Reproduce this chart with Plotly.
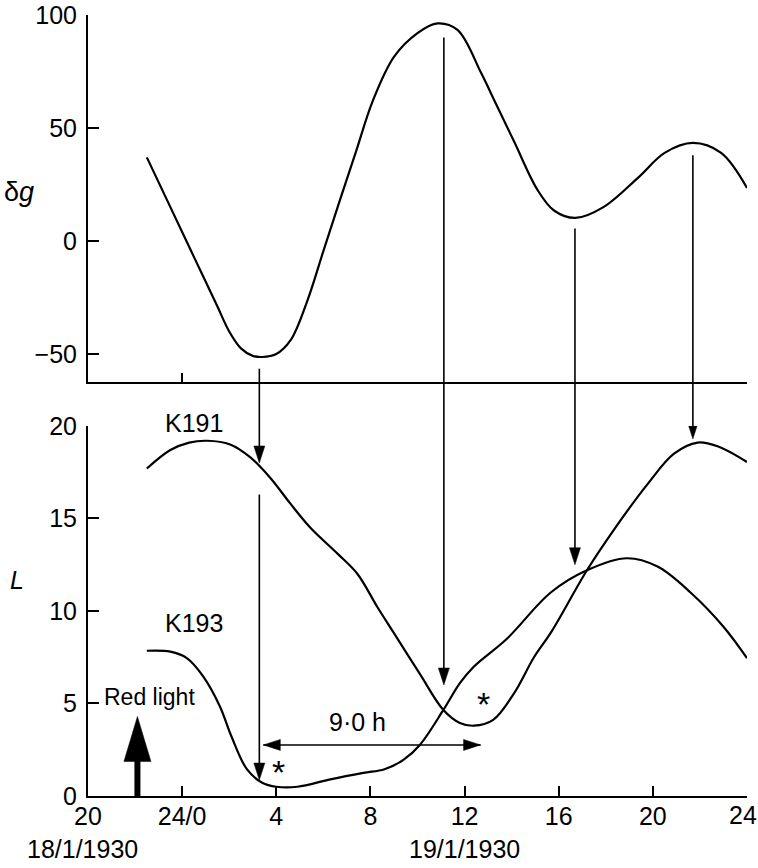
import plotly.graph_objects as go

# ---------------- data ----------------
dg_hours = [22.5, 23.5, 24.5, 25.5, 26.0, 26.5, 27.0, 27.4, 28.0, 28.6, 29.3, 30.0, 30.7, 31.4,
            32.1, 33.0, 34.0, 34.85, 35.7, 36.7, 37.25, 38.1, 39.1, 39.8, 40.7, 41.9, 43.4,
            44.5, 45.7, 46.9, 48.0]
dg_values = [37, 15, -7, -29, -40, -47.5, -50.8, -51.3, -50, -44, -27, -4.5, 18, 40,
             62, 81.5, 92, 96.3, 93.4, 74.4, 62.5, 44.1, 22.6, 13.5, 10.2, 15, 28.3,
             39, 43.4, 39, 23.5]

k191_hours = [22.5, 23.5, 24.3, 25.06, 26.04, 26.9, 27.74, 28.6, 29.45, 30.6, 31.45, 32.3, 33.0,
              34.1, 35.1, 35.8, 36.4, 37.2, 38.1, 38.95, 39.7, 41.2, 42.35, 43.8, 44.9, 45.9,
              46.75, 48.0]
k191_values = [17.7, 18.7, 19.1, 19.2, 19.0, 18.3, 17.2, 15.8, 14.5, 13.1, 12.0, 10.2, 8.8,
               6.6, 4.65, 3.95, 3.8, 4.1, 5.55, 7.5, 8.9, 12.2, 14.4, 16.9, 18.5, 19.1,
               18.9, 18.05]

k193_hours = [22.5, 23.5, 24.2, 24.9, 25.6, 26.1, 26.75, 27.4, 28.0, 28.9, 30.3, 31.7, 32.6,
              33.4, 34.1, 35.1, 35.8, 36.4, 37.8, 39.66, 41.2, 42.9, 44.2, 45.6, 47.0, 48.0]
k193_values = [7.85, 7.8, 7.45, 6.45, 4.85, 3.2, 1.45, 0.72, 0.5, 0.5, 0.9, 1.25, 1.45,
               1.95, 2.76, 4.65, 6.1, 7.0, 8.5, 11.0, 12.2, 12.85, 12.4, 11.0, 9.15, 7.45]

x_tickvals = [20, 24, 28, 32, 36, 40, 44, 48]
x_ticktext = ["20", "24/0", "4", "8", "12", "16", "20", "24"]
dg_tickvals = [-50, 0, 50, 100]
dg_ticktext = ["\u221250", "0", "50", "100"]
L_tickvals = [0, 5, 10, 15, 20]

# correspondence arrows: hour, start (panel, value), end L value
arrow_hours = [27.28, 27.28, 35.12, 40.69, 45.7]
arrow_start_panel = ["dg", "L", "dg", "dg", "dg"]
arrow_start_value = [-56.5, 16.3, 90.0, 5.5, 38.0]
arrow_end_L = [18.0, 0.86, 6.0, 12.5, 19.3]

# 9.0 h interval arrow
interval_hours = [27.45, 36.68]
interval_L = 2.76

# red light stimulus
redlight_hour = 22.1
redlight_tip_L = 4.3

# ---------------- layout helpers ----------------
TOP_DOM = [0.530, 1.0]
BOT_DOM = [0.0, 0.4738]
DG_RANGE = [-62.4, 100]
L_RANGE = [0, 20]
FONT = "Liberation Sans, Arial, Helvetica, sans-serif"
FS = 25


def dg_paper(v):
    return TOP_DOM[0] + (v - DG_RANGE[0]) / (DG_RANGE[1] - DG_RANGE[0]) * (TOP_DOM[1] - TOP_DOM[0])


def l_paper(v):
    return BOT_DOM[0] + (v - L_RANGE[0]) / (L_RANGE[1] - L_RANGE[0]) * (BOT_DOM[1] - BOT_DOM[0])


fig = go.Figure()
line_style = dict(color="black", width=2.2)
fig.add_trace(go.Scatter(x=dg_hours, y=dg_values, mode="lines", line=dict(shape="spline", **line_style),
                         xaxis="x", yaxis="y", showlegend=False, hoverinfo="skip"))
fig.add_trace(go.Scatter(x=k191_hours, y=k191_values, mode="lines", line=dict(shape="spline", **line_style),
                         xaxis="x2", yaxis="y2", showlegend=False, hoverinfo="skip"))
fig.add_trace(go.Scatter(x=k193_hours, y=k193_values, mode="lines", line=dict(shape="spline", **line_style),
                         xaxis="x2", yaxis="y2", showlegend=False, hoverinfo="skip"))

shapes = []
HEAD_DOWN = "M0,0 L-5.5,17 L5.5,17 Z"
for h, panel, sv, ev in zip(arrow_hours, arrow_start_panel, arrow_start_value, arrow_end_L):
    y0 = dg_paper(sv) if panel == "dg" else l_paper(sv)
    shapes.append(dict(type="line", xref="x2", yref="paper", x0=h, x1=h, y0=y0, y1=l_paper(ev) + 0.01,
                       line=dict(color="black", width=1.6)))
    shapes.append(dict(type="path", xref="x2", yref="y2", xsizemode="pixel", ysizemode="pixel",
                       xanchor=h, yanchor=ev, path=HEAD_DOWN, fillcolor="black",
                       line=dict(color="black", width=0.5)))

# interval double arrow
shapes.append(dict(type="line", xref="x2", yref="y2", x0=interval_hours[0], x1=interval_hours[1],
                   y0=interval_L, y1=interval_L, line=dict(color="black", width=1.6)))
shapes.append(dict(type="path", xref="x2", yref="y2", xsizemode="pixel", ysizemode="pixel",
                   xanchor=interval_hours[0], yanchor=interval_L, path="M0,0 L17,5.5 L17,-5.5 Z",
                   fillcolor="black", line=dict(color="black", width=0.5)))
shapes.append(dict(type="path", xref="x2", yref="y2", xsizemode="pixel", ysizemode="pixel",
                   xanchor=interval_hours[1], yanchor=interval_L, path="M0,0 L-17,5.5 L-17,-5.5 Z",
                   fillcolor="black", line=dict(color="black", width=0.5)))

# red light arrow
shapes.append(dict(type="line", xref="x2", yref="y2", x0=redlight_hour, x1=redlight_hour,
                   y0=0, y1=redlight_tip_L - 1.5, line=dict(color="black", width=6)))
shapes.append(dict(type="path", xref="x2", yref="y2", xsizemode="pixel", ysizemode="pixel",
                   xanchor=redlight_hour, yanchor=redlight_tip_L, path="M0,0 L-13.5,-45 L13.5,-45 Z",
                   fillcolor="black", line=dict(color="black", width=0.5)))

annotations = []


def txt(text, x, y, xref="x2", yref="y2", size=FS, xanchor="center", yanchor="middle", **kw):
    annotations.append(dict(text=text, x=x, y=y, xref=xref, yref=yref, showarrow=False,
                            xanchor=xanchor, yanchor=yanchor,
                            font=dict(family=FONT, size=size, color="black"), **kw))


# last x tick label drawn as annotation so that it stays inside the page edge
axis_ticktext = x_ticktext[:-1] + [""]
txt(x_ticktext[-1], x_tickvals[-1], l_paper(0), yref="paper", xanchor="right", yanchor="top",
    xshift=12, yshift=-3)

txt("K191", 24.5, l_paper(20.15), yref="paper")
txt("K193", 24.5, 9.35)
txt("Red light", 20.6, 5.35, xanchor="left", size=23)
txt("9\u00b70 h", 31.45, 4.0)
txt("*", 28.1, 1.5, size=34, yshift=-4)
txt("*", 36.8, 5.2, size=34, yshift=-4)
txt("18/1/1930", -0.009, -0.068, xref="paper", yref="paper")
txt("19/1/1930", 36.0, -0.068, yref="paper")
txt("\u03b4<i>g</i>", -0.1305, dg_paper(21.7), xref="paper", yref="paper", size=27, xanchor="left")
txt("<i>L</i>", -0.121, l_paper(11.7), xref="paper", yref="paper", size=25, xanchor="left")

axis_common = dict(showline=True, linecolor="black", linewidth=2, ticks="inside", tickcolor="black",
                   tickwidth=2, showgrid=False, zeroline=False, automargin=False,
                   tickfont=dict(family=FONT, size=FS, color="black"))

fig.update_layout(
    width=758, height=868,
    margin=dict(l=88, r=11, t=15, b=72, autoexpand=False),
    paper_bgcolor="white", plot_bgcolor="white",
    xaxis=dict(domain=[0, 1], anchor="y", range=[20, 48], tickvals=[24], showticklabels=False,
               ticklen=9, **axis_common),
    yaxis=dict(domain=TOP_DOM, anchor="x", range=DG_RANGE, tickvals=dg_tickvals, ticktext=dg_ticktext,
               ticklen=11, ticklabelstandoff=4, **axis_common),
    xaxis2=dict(domain=[0, 1], anchor="y2", range=[20, 48], tickvals=x_tickvals, ticktext=axis_ticktext,
                ticklen=10, ticklabelstandoff=-3, **axis_common),
    yaxis2=dict(domain=BOT_DOM, anchor="x2", range=L_RANGE, tickvals=L_tickvals,
                ticklen=11, ticklabelstandoff=4, **axis_common),
    shapes=shapes,
    annotations=annotations,
    showlegend=False,
)

fig.write_html("out.html", config={"displayModeBar": False},
               post_script="document.body.style.margin='0px';")
